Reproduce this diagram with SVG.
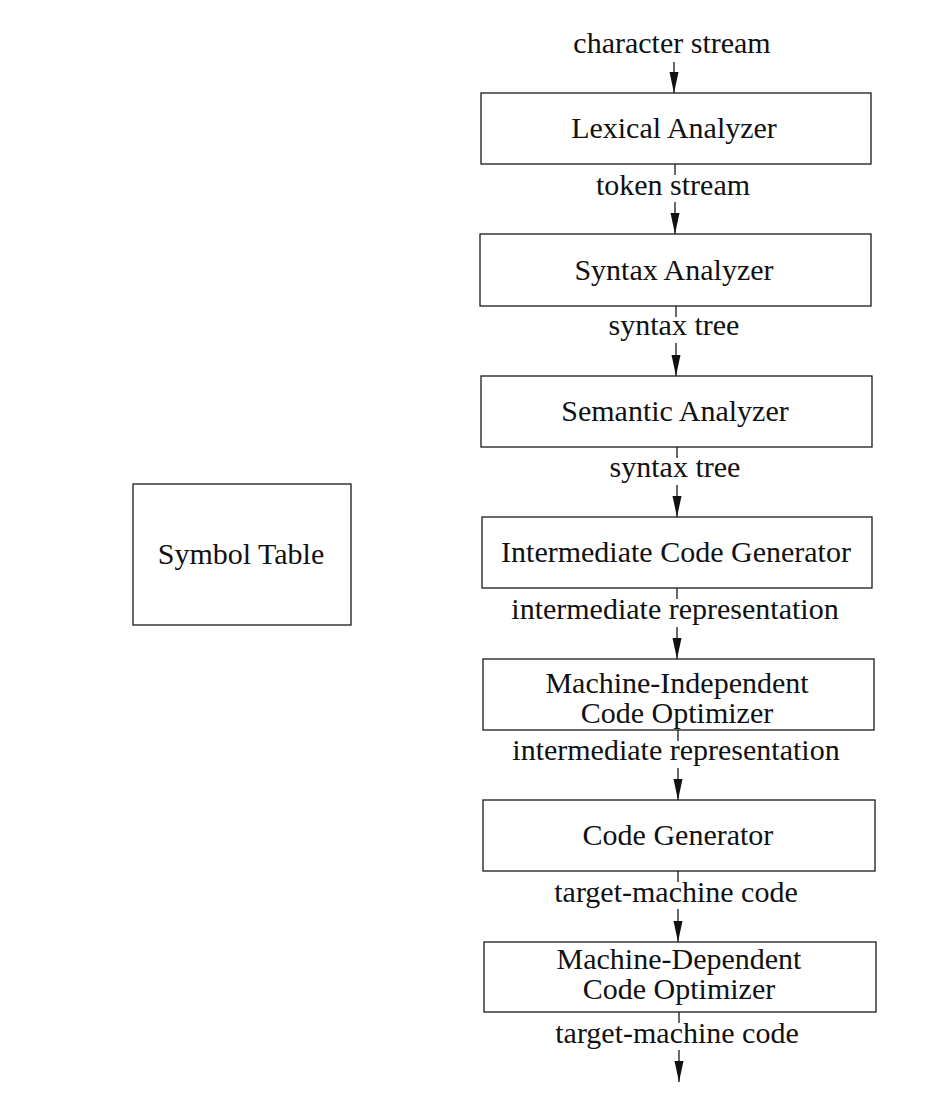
<svg xmlns="http://www.w3.org/2000/svg" width="952" height="1102" viewBox="0 0 952 1102">
<style>
.box{fill:#fff;stroke:#1a1a1a;stroke-width:1.3}
.t{font-family:"Liberation Serif","Times New Roman",serif;font-size:30px;fill:#111;text-anchor:middle}
.ln{stroke:#1a1a1a;stroke-width:1.3;fill:none}
.ah{fill:#111}
</style>
<rect width="952" height="1102" fill="#fff"/>
<g id="connectors">
<line class="ln" x1="674" y1="62" x2="674" y2="93"/>
<path class="ah" d="M669.5,72 L678.5,72 L674,93 Z"/>
<line class="ln" x1="675" y1="164" x2="675" y2="175"/>
<line class="ln" x1="675" y1="202" x2="675" y2="234"/>
<path class="ah" d="M670.5,213 L679.5,213 L675,234 Z"/>
<line class="ln" x1="676" y1="306" x2="676" y2="317"/>
<line class="ln" x1="676" y1="343" x2="676" y2="376"/>
<path class="ah" d="M671.5,355 L680.5,355 L676,376 Z"/>
<line class="ln" x1="677" y1="447" x2="677" y2="458"/>
<line class="ln" x1="677" y1="485" x2="677" y2="517"/>
<path class="ah" d="M672.5,496 L681.5,496 L677,517 Z"/>
<line class="ln" x1="677" y1="588" x2="677" y2="599"/>
<line class="ln" x1="677" y1="627" x2="677" y2="659"/>
<path class="ah" d="M672.5,638 L681.5,638 L677,659 Z"/>
<line class="ln" x1="678" y1="730" x2="678" y2="741"/>
<line class="ln" x1="678" y1="768" x2="678" y2="800"/>
<path class="ah" d="M673.5,779 L682.5,779 L678,800 Z"/>
<line class="ln" x1="678" y1="871" x2="678" y2="882"/>
<line class="ln" x1="678" y1="909" x2="678" y2="942"/>
<path class="ah" d="M673.5,921 L682.5,921 L678,942 Z"/>
<line class="ln" x1="679" y1="1012" x2="679" y2="1023"/>
<line class="ln" x1="679" y1="1050" x2="679" y2="1082"/>
<path class="ah" d="M674.5,1061 L683.5,1061 L679,1082 Z"/>
</g>
<g id="labels">
<text class="t" x="672" y="53">character stream</text>
<text class="t" x="673" y="195">token stream</text>
<text class="t" x="674" y="335">syntax tree</text>
<text class="t" x="675" y="477">syntax tree</text>
<text class="t" x="675" y="619">intermediate representation</text>
<text class="t" x="676" y="760">intermediate representation</text>
<text class="t" x="676" y="902">target-machine code</text>
<text class="t" x="677" y="1043">target-machine code</text>
</g>
<g id="lexical"><rect class="box" x="481" y="93" width="390" height="71"/><text class="t" x="674" y="138">Lexical Analyzer</text></g>
<g id="syntax"><rect class="box" x="480" y="234" width="391" height="72"/><text class="t" x="674" y="280">Syntax Analyzer</text></g>
<g id="semantic"><rect class="box" x="481" y="376" width="391" height="71"/><text class="t" x="675" y="421">Semantic Analyzer</text></g>
<g id="intermediate"><rect class="box" x="482" y="517" width="390" height="71"/><text class="t" x="676" y="562">Intermediate Code Generator</text></g>
<g id="mi-optimizer"><rect class="box" x="483" y="659" width="391" height="71"/><text class="t" x="677" y="693">Machine-Independent</text><text class="t" x="677" y="723">Code Optimizer</text></g>
<g id="codegen"><rect class="box" x="483" y="800" width="392" height="71"/><text class="t" x="678" y="845">Code Generator</text></g>
<g id="md-optimizer"><rect class="box" x="484" y="942" width="392" height="70"/><text class="t" x="679" y="969">Machine-Dependent</text><text class="t" x="679" y="999">Code Optimizer</text></g>
<g id="symbol-table"><rect class="box" x="133" y="484" width="218" height="141"/><text class="t" x="241" y="564">Symbol Table</text></g>
</svg>
